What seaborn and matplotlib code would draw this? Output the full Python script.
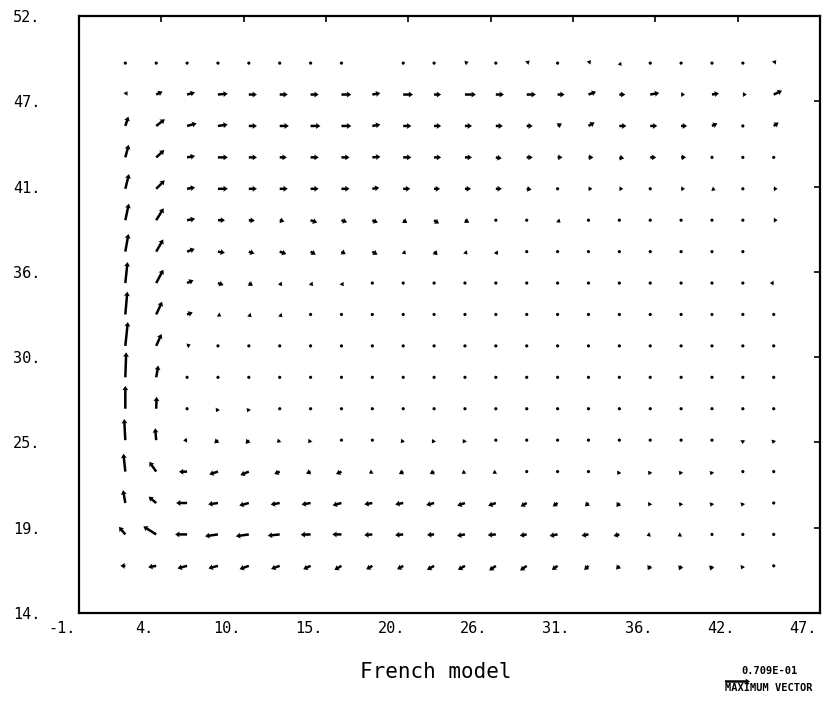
import numpy as np
import pandas as pd
import seaborn as sns
import matplotlib
matplotlib.use("Agg")
import matplotlib.pyplot as plt
from matplotlib.transforms import ScaledTranslation

# Grid of the model (longitude-like x, latitude-like y)
x_grid = [2, 4, 6, 8, 10, 12, 14, 16, 18, 20, 22, 24, 26, 28, 30, 32, 34, 36, 38, 40, 42, 44]
y_grid = [49, 47, 45, 43, 41, 39, 37, 35, 33, 31, 29, 27, 25, 23, 21, 19, 17]

# Current speed in units of 1e-3, one row per y_grid entry (nan = no vector)
speed = [
    [4, 4, 4, 8, 4, 8, 4, 8, np.nan, 8, 4, 11, 4, 11, 8, 11, 10, 8, 4, 8, 4, 11],
    [11, 20, 23, 28, 23, 23, 23, 28, 23, 28, 20, 31, 23, 26, 20, 23, 17, 26, 11, 20, 11, 26],
    [28, 31, 28, 28, 23, 26, 28, 28, 23, 23, 20, 20, 20, 17, 14, 20, 20, 20, 17, 17, 6, 17],
    [37, 31, 23, 28, 23, 20, 23, 23, 23, 23, 20, 20, 17, 17, 14, 14, 14, 17, 14, 6, 4, 6],
    [43, 34, 23, 28, 23, 23, 23, 23, 20, 20, 17, 17, 17, 14, 8, 11, 11, 6, 11, 11, 8, 11],
    [48, 40, 23, 20, 17, 14, 20, 17, 17, 14, 17, 14, 6, 6, 11, 6, 5, 5, 5, 5, 8, 11],
    [51, 40, 23, 20, 17, 20, 17, 14, 17, 11, 14, 11, 11, 5, 5, 5, 5, 5, 8, 8, 8, np.nan],
    [60, 43, 20, 17, 14, 11, 11, 11, 5, 5, 5, 5, 5, 5, 5, 5, 5, 5, 5, 5, 6, 11],
    [65, 40, 17, 11, 11, 11, 8, 8, 5, 5, 5, 5, 5, 5, 5, 5, 5, 8, 8, 5, 5, 5],
    [68, 37, 11, 5, 8, 5, 5, 5, 5, 5, 5, 5, 5, 5, 5, 5, 5, 5, 5, 5, 5, 8],
    [70.9, 34, 5, 8, 8, 5, 5, 5, 5, 5, 5, 5, 5, 5, 5, 5, 5, 5, 5, 5, 5, 6],
    [65, 34, 4, 11, 11, 8, 8, 8, 5, 8, 5, 5, 5, 5, 5, 5, 5, 8, 5, 8, 5, 8],
    [60, 34, 11, 14, 14, 11, 11, 5, 8, 11, 11, 11, 8, 5, 5, 5, 8, 5, 5, 8, 11, 11],
    [51, 34, 23, 26, 26, 17, 14, 17, 11, 14, 14, 11, 11, 8, 5, 8, 11, 11, 11, 11, 8, 5],
    [37, 28, 31, 28, 28, 26, 26, 26, 23, 23, 23, 23, 23, 20, 17, 14, 14, 11, 11, 11, 11, 5],
    [28, 43, 34, 37, 37, 34, 28, 26, 23, 23, 20, 23, 23, 20, 23, 20, 17, 11, 11, 8, 8, 5],
    [14, 23, 28, 28, 28, 26, 23, 23, 20, 20, 23, 23, 23, 23, 20, 17, 14, 14, 14, 14, 11, 5],
]

# Current heading in degrees, counter-clockwise from east
heading = [
    [45, 45, 30, 30, 10, 0, 0, 0, 0, 0, 0, 20, 30, 40, -50, 50, -50, 45, 30, 45, 40, 50],
    [55, 25, 15, 5, 0, 0, 0, 0, 10, 0, 0, 0, 0, 0, 0, 20, 0, 10, 0, 10, 0, 25],
    [72, 38, 15, 8, 0, 0, 0, 0, 10, 0, 0, 0, 0, 0, 30, 30, 0, 0, 0, 25, 0, 35],
    [75, 42, 10, 0, 0, 0, 0, 0, 5, 0, 0, 0, -10, 0, 0, 0, -15, 0, 0, 0, 0, 0],
    [76, 45, 10, 0, 0, 0, 0, 0, 10, 0, 0, 0, 0, -10, 0, 0, 0, 0, 0, -20, 0, 0],
    [78, 58, 10, 0, -5, -15, -20, -20, -25, -35, -35, -30, -40, -40, -40, -45, -45, -45, -45, -30, 0, 0],
    [80, 60, 20, -10, -20, -20, -30, -30, -30, -45, -45, -50, -60, -60, -60, -60, -60, -60, -30, 0, 0, 0],
    [84, 62, 25, -20, -35, -50, -50, -55, -60, -70, -70, -70, -70, -70, -70, -70, -70, -70, -70, -70, 180, 180],
    [85, 65, 20, -30, -45, -45, -45, -45, -60, -70, -80, -80, -80, -80, -80, -80, -80, 240, 180, -90, -90, -90],
    [84, 66, 20, -60, -60, -70, -80, -80, -80, -90, -90, -90, -90, -90, -90, -90, -90, -90, -90, -90, -90, 180],
    [88, 80, 270, 240, 250, 260, 270, 270, 270, 270, 270, 270, 270, 270, 270, 270, 270, 270, 270, 270, 270, 270],
    [90, 88, 270, 240, 245, 240, 240, 245, 250, 240, 260, 260, 260, 260, 260, 260, 260, 270, 265, 270, 265, 270],
    [93, 95, 185, 220, 230, 225, 230, 235, 230, 230, 235, 235, 240, 245, 250, 255, 265, 260, 260, 260, 265, 255],
    [96, 125, 182, 198, 203, 205, 205, 205, 210, 210, 210, 215, 215, 225, 230, 240, 240, 245, 245, 250, 250, 260],
    [100, 140, 180, 188, 195, 190, 190, 195, 190, 190, 195, 200, 200, 210, 215, 225, 235, 240, 245, 250, 250, 260],
    [130, 148, 180, 188, 188, 186, 182, 180, 185, 185, 185, 190, 185, 190, 190, 190, 195, 200, 210, 240, 240, 260],
    [180, 190, 195, 195, 200, 200, 205, 210, 210, 210, 210, 210, 215, 215, 215, 225, 230, 240, 245, 250, 245, 260],
]

x_ticks = [-1, 4.333, 9.667, 15, 20.333, 25.667, 31, 36.333, 41.667, 47]
x_labels = ["-1.", "4.", "10.", "15.", "20.", "26.", "31.", "36.", "42.", "47."]
y_ticks = [14, 19.429, 24.857, 30.286, 35.714, 41.143, 46.571, 52]
y_labels = ["14.", "19.", "25.", "30.", "36.", "41.", "47.", "52."]

max_vector = 70.9          # 0.709E-01 expressed in units of 1e-3
key_text = "0.709E-01"
title_text = "French model"

# Long-form table of the vector field
rows = []
for j, yv in enumerate(y_grid):
    for i, xv in enumerate(x_grid):
        rows.append((xv, yv, speed[j][i], heading[j][i]))
field = pd.DataFrame(rows, columns=["x", "y", "speed", "heading"])
rad = np.deg2rad(field["heading"])
field["u"] = field["speed"] * np.cos(rad)
field["v"] = field["speed"] * np.sin(rad)

sns.set_theme(style="white")
plt.rcParams["font.family"] = ["DejaVu Sans Mono", "DejaVu Sans"]
plt.rcParams.update({"text.color": "black", "axes.labelcolor": "black",
                     "xtick.color": "black", "ytick.color": "black"})

DPI = 100
fig = plt.figure(figsize=(8.23, 7.04), dpi=DPI)
ax = fig.add_axes([0.096, 0.1293, 0.9004, 0.848])

arrow_kw = dict(units="dots", angles="uv", scale_units="dots", scale=max_vector / 25.0,
                width=2.5, headwidth=2.4, headlength=1.8, headaxislength=1.6,
                minshaft=1.0, minlength=1.4, pivot="tail", color="black")
q = ax.quiver(field["x"], field["y"], field["u"], field["v"], **arrow_kw)

ax.set_xlim(-1, 47)
ax.set_ylim(14, 52)
ax.set_xticks(x_ticks)
ax.set_xticklabels(x_labels)
ax.set_yticks(y_ticks)
ax.set_yticklabels(y_labels)
ax.grid(False)

ax.tick_params(axis="both", which="major", direction="in", length=4.5, width=1.2,
               top=True, right=True, labelsize=11, colors="black")
ax.tick_params(axis="x", pad=6)
ax.tick_params(axis="y", pad=28)
for sp in ax.spines.values():
    sp.set_visible(True)
    sp.set_linewidth(1.6)
    sp.set_color("black")

# shift the x tick labels a little to the left of their ticks
shift = ScaledTranslation(-17 / DPI, 0, fig.dpi_scale_trans)
for lab in ax.get_xticklabels():
    lab.set_transform(lab.get_transform() + shift)

# reference arrow for the largest vector
ax.quiverkey(q, 737 / 823, 1 - 681 / 704, max_vector, label="", coordinates="figure",
             labelpos="N")
fig.text(770 / 823, 1 - 671 / 704, key_text, ha="center", va="center", fontsize=7.5,
         fontweight="bold", color="black")
fig.text(769 / 823, 1 - 688 / 704, "MAXIMUM VECTOR", ha="center", va="center",
         fontsize=7.5, fontweight="bold", color="black")

fig.text(436 / 823, 1 - 678 / 704, title_text, ha="center", va="baseline", fontsize=15,
         color="black")

fig.savefig("out.png", dpi=DPI, facecolor="white")
